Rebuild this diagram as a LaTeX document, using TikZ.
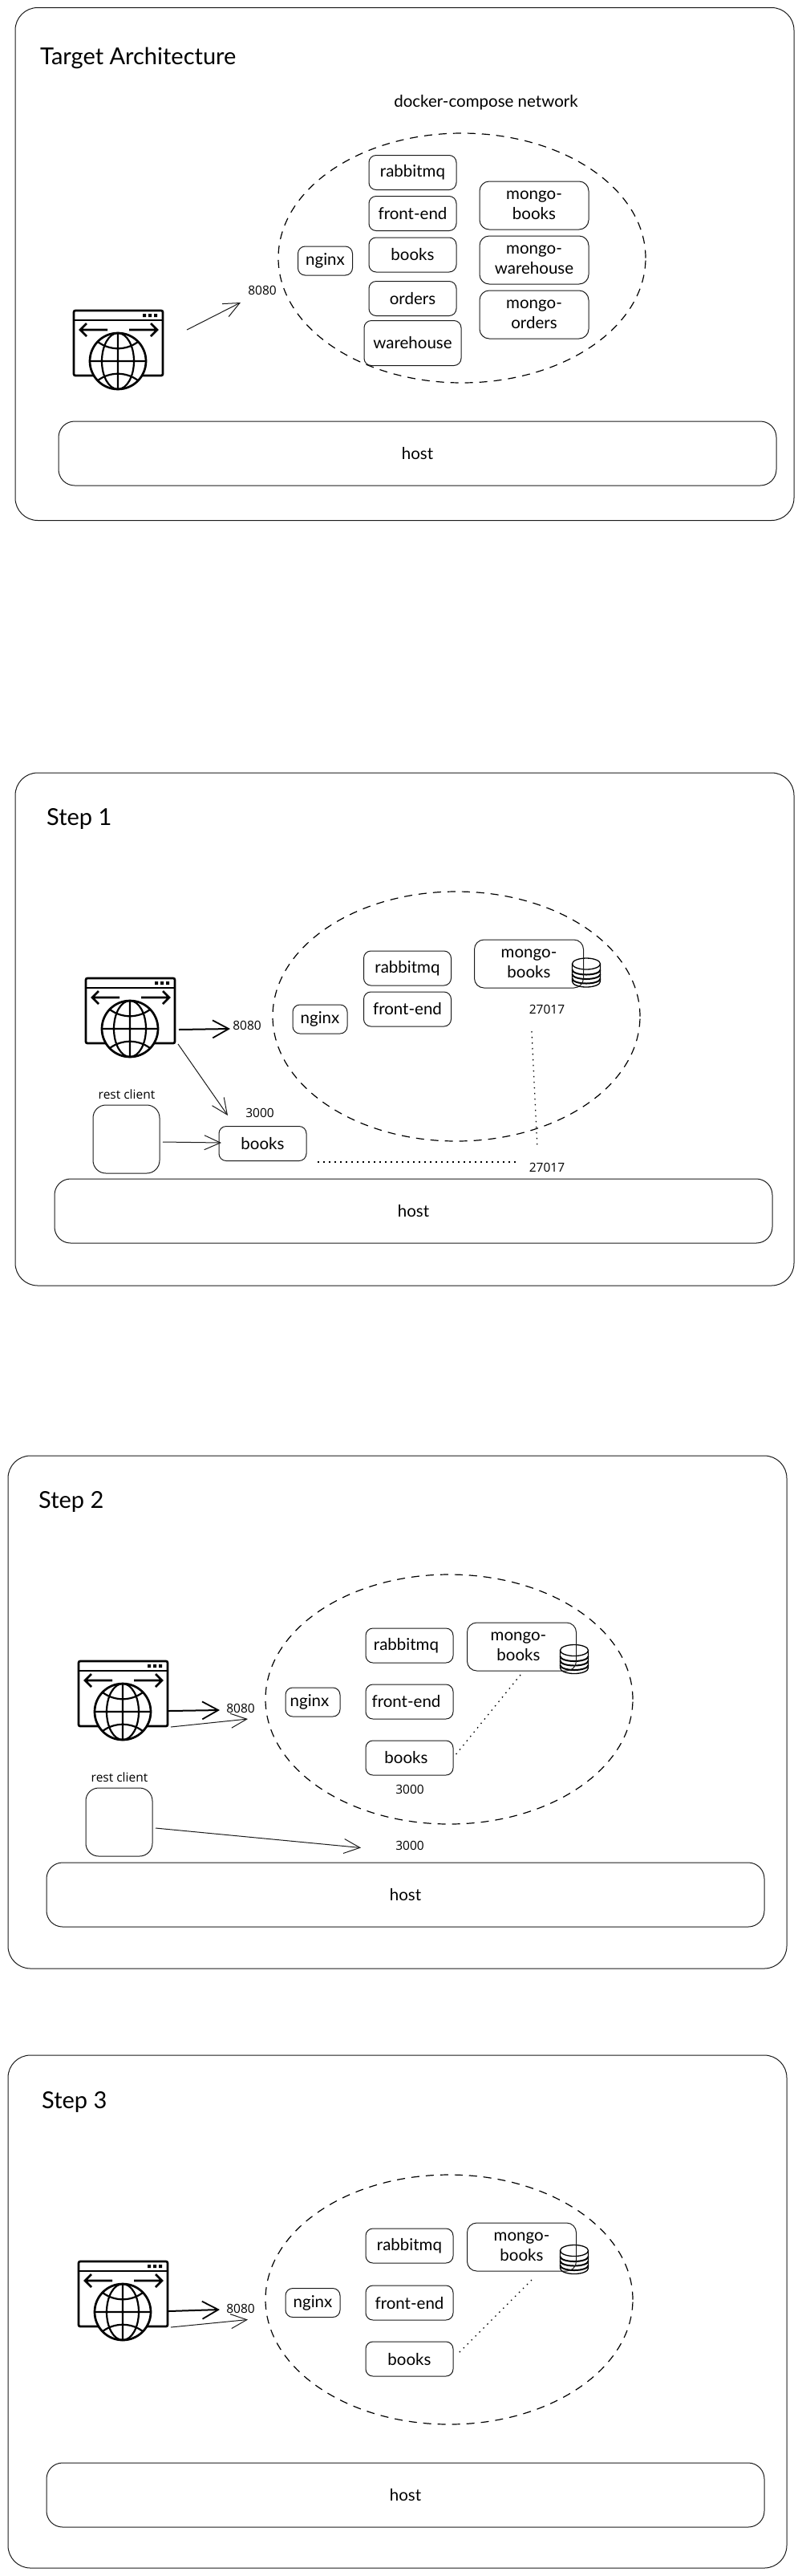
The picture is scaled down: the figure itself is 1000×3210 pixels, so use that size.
\documentclass[tikz,border=0pt]{standalone}
\usepackage{fontspec}
\setmainfont{Lato}
\newfontfamily\portfont{Open Sans}
\usetikzlibrary{arrows.meta,shapes.geometric}
\definecolor{linegray}{HTML}{1A1A1A}
\tikzset{
  panelbox/.style={draw=linegray, line width=1pt, rounded corners=28, minimum width=971, minimum height=639, inner sep=0},
  hostbox/.style={draw=linegray, line width=1pt, rounded corners=20, minimum width=895, minimum height=80, inner sep=0, font=\fontsize{20.5}{24}\selectfont},
  netcloud/.style={ellipse, draw=black, line width=1.2pt, dash pattern=on 10pt off 8pt, minimum width=458, minimum height=311, inner sep=0},
  svcbox/.style={draw=linegray, line width=1pt, rounded corners=9, minimum width=109, minimum height=43, inner sep=0, font=\fontsize{20.5}{24.5}\selectfont},
  nginxbox/.style={svcbox, minimum width=68, minimum height=36},
  mongobox/.style={svcbox, rounded corners=12, minimum width=136, minimum height=60, align=center},
  clientbox/.style={draw=linegray, line width=1pt, rounded corners=16, minimum width=83, minimum height=85, inner sep=0},
  titletext/.style={inner sep=0, font=\fontsize{29}{34}\selectfont},
  porttext/.style={inner sep=0, font=\portfont\fontsize{15.5}{18}\selectfont},
  thinarrow/.style={draw=linegray, line width=1pt, -{Straight Barb[length=20pt,width=18pt,line width=1pt]}},
  thickarrow/.style={draw=black, line width=2pt, -{Straight Barb[length=20pt,width=22pt,line width=1.8pt]}},
  dotline/.style={draw=black, line width=1.3pt, dash pattern=on 1.5pt off 5.5pt},
  pics/browser/.style={code={
    \draw[line width=2.7pt, rounded corners=2] (-55,-63) rectangle (56,18);
    \draw[line width=2.7pt] (-55,-51) -- (56,-51);
    \fill (31,-59) rectangle (35,-55) (38,-59) rectangle (42,-55) (45,-59) rectangle (49,-55);
    \draw[line width=2.7pt] (-13,-39) -- (-47,-39) (-39,-47) -- (-47,-39) -- (-39,-31);
    \draw[line width=2.7pt] (14,-39) -- (49,-39) (41,-47) -- (49,-39) -- (41,-31);
    \draw[line width=2.7pt, fill=white] (0,0) circle (35);
    \draw[line width=2.2pt] (0,0) ellipse (20 and 35) (0,-35) -- (0,35) (-35,0) -- (35,0);
    \draw[line width=2.2pt] (-25,-24) .. controls (-10,-13) and (10,-13) .. (25,-24);
    \draw[line width=2.2pt] (-25,24) .. controls (-10,13) and (10,13) .. (25,24);
  }},
  pics/dbstack/.style={code={
    \draw[line width=1.3pt, fill=white] (-17.5,-11) -- (-17.5,11) arc[start angle=180, end angle=0, x radius=17.5, y radius=7] -- (17.5,-11);
    \draw[line width=1.3pt, fill=white] (0,-11) ellipse (17.5 and 7);
    \foreach \ybar in {-3.5,2,7.5}
      \draw[line width=2pt] (-17.5,\ybar) arc[start angle=180, end angle=0, x radius=17.5, y radius=6];
  }}
}
\begin{document}
\begin{tikzpicture}[x=1pt, y=-1pt]
  \useasboundingbox (0,0) rectangle (1000,3210);

  % Target Architecture
  \node[panelbox] (panelT) at (504.5,329) {};
  \node[titletext, anchor=west] (titleT) at (50,72) {Target Architecture};
  \node[inner sep=0, font=\fontsize{20.5}{24}\selectfont] (labelT) at (606,128) {docker-compose network};
  \node[netcloud] (netT) at (576,321.5) {};
  \node[svcbox] (rabbitT) at (514.5,215) {rabbitmq};
  \node[svcbox] (frontT) at (514.5,266) {front-end};
  \node[svcbox] (booksT) at (514.5,317.5) {books};
  \node[svcbox] (ordersT) at (514.5,372) {orders};
  \node[svcbox, minimum width=121, minimum height=56] (wareT) at (514.5,427.5) {warehouse};
  \node[nginxbox] (nginxT) at (405.5,325) {nginx};
  \node[mongobox] (mbooksT) at (666,256) {mongo-\\books};
  \node[mongobox] (mwareT) at (666,324) {mongo-\\warehouse};
  \node[mongobox] (mordersT) at (666,392) {mongo-\\orders};
  \pic at (147,450) {browser};
  \node[porttext] (portT) at (327,362) {8080};
  \coordinate (startT) at (233,411);
  \coordinate (endT) at (300,377);
  \draw[thinarrow] (startT) -- (endT);
  \node[hostbox] (hostT) at (520.5,565) {host};

  % Step 1
  \node[panelbox] (panelA) at (504.5,1282.5) {};
  \node[titletext, anchor=west] (titleA) at (58,1020) {Step 1};
  \node[netcloud] (netA) at (569,1266.5) {};
  \node[svcbox] (rabbitA) at (508,1206.5) {rabbitmq};
  \node[svcbox] (frontA) at (508,1257.5) {front-end};
  \node[nginxbox] (nginxA) at (399,1270) {nginx};
  \pic at (731,1212) {dbstack};
  \node[mongobox] (mbooksA) at (659.5,1201) {mongo-\\books};
  \node[porttext] (mportA) at (682,1258) {27017};
  \node[porttext] (hportA) at (682,1455) {27017};
  \coordinate (dbtopA) at (663,1285);
  \coordinate (dbendA) at (670,1431);
  \draw[dotline] (dbtopA) -- (dbendA);
  \coordinate (dotstartA) at (396,1448);
  \coordinate (dotendA) at (647,1448);
  \draw[dotline] (dotstartA) -- (dotendA);
  \pic at (162,1282) {browser};
  \node[porttext] (portA) at (308,1278) {8080};
  \coordinate (startA) at (223,1283);
  \coordinate (endA) at (287,1282);
  \draw[thickarrow] (startA) -- (endA);
  \node[svcbox] (booksA) at (327.5,1425) {books};
  \node[porttext] (bportA) at (324,1387) {3000};
  \node[porttext] (clienttextA) at (158,1364) {rest client};
  \node[clientbox] (clientA) at (157.5,1419.5) {};
  \coordinate (downA) at (222,1301);
  \coordinate (arriveA) at (284,1390);
  \draw[thinarrow] (downA) -- (arriveA);
  \coordinate (restA) at (203,1423);
  \coordinate (restendA) at (276,1424);
  \draw[thinarrow] (restA) -- (restendA);
  \node[hostbox] (hostA) at (515.5,1509) {host};

  % Step 2
  \node[panelbox] (panelB) at (495.5,2133.5) {};
  \node[titletext, anchor=west] (titleB) at (48,1871) {Step 2};
  \node[netcloud] (netB) at (560,2117.5) {};
  \node[svcbox] (rabbitB) at (510.5,2050.5) {\kern-8pt rabbitmq};
  \node[svcbox] (frontB) at (510.5,2120.5) {\kern-8pt front-end};
  \node[svcbox] (booksB) at (510.5,2190.5) {\kern-8pt books};
  \node[nginxbox] (nginxB) at (390,2121) {\kern-8pt nginx};
  \pic at (716,2067.5) {dbstack};
  \node[mongobox] (mbooksB) at (650.5,2052) {\kern-8pt mongo-\\\kern-8pt books};
  \coordinate (dbtopB) at (649,2087);
  \coordinate (dbendB) at (567,2188);
  \draw[dotline] (dbtopB) -- (dbendB);
  \node[porttext] (bportB) at (511,2230) {3000};
  \node[porttext] (hportB) at (511,2300) {3000};
  \pic at (153,2133) {browser};
  \node[porttext] (portB) at (300,2129) {8080};
  \coordinate (startB) at (210,2132);
  \coordinate (endB) at (274,2131);
  \draw[thickarrow] (startB) -- (endB);
  \coordinate (lowB) at (213,2152);
  \coordinate (lowendB) at (309,2142);
  \draw[thinarrow] (lowB) -- (lowendB);
  \node[porttext] (clienttextB) at (149,2215) {rest client};
  \node[clientbox] (clientB) at (148.5,2270.5) {};
  \coordinate (restB) at (194,2278);
  \coordinate (restendB) at (450,2302.5);
  \draw[thinarrow] (restB) -- (restendB);
  \node[hostbox] (hostB) at (505.5,2361) {host};

  % Step 3
  \node[panelbox] (panelC) at (495.5,2880.5) {};
  \node[titletext, anchor=west] (titleC) at (52,2619) {Step 3};
  \node[netcloud] (netC) at (560,2865.5) {};
  \node[svcbox] (rabbitC) at (510.5,2798.5) {rabbitmq};
  \node[svcbox] (frontC) at (510.5,2869.5) {front-end};
  \node[svcbox] (booksC) at (510.5,2939.5) {books};
  \node[nginxbox] (nginxC) at (390,2869.5) {nginx};
  \pic at (716,2815.5) {dbstack};
  \node[mongobox] (mbooksC) at (650.5,2800) {mongo-\\books};
  \coordinate (dbtopC) at (663,2841);
  \coordinate (dbendC) at (571,2933);
  \draw[dotline] (dbtopC) -- (dbendC);
  \pic at (153,2881) {browser};
  \node[porttext] (portC) at (300,2877) {8080};
  \coordinate (startC) at (210,2880);
  \coordinate (endC) at (274,2878);
  \draw[thickarrow] (startC) -- (endC);
  \coordinate (lowC) at (213,2900);
  \coordinate (lowendC) at (309,2890.5);
  \draw[thinarrow] (lowC) -- (lowendC);
  \node[hostbox] (hostC) at (505.5,3109) {host};
\end{tikzpicture}
\end{document}
